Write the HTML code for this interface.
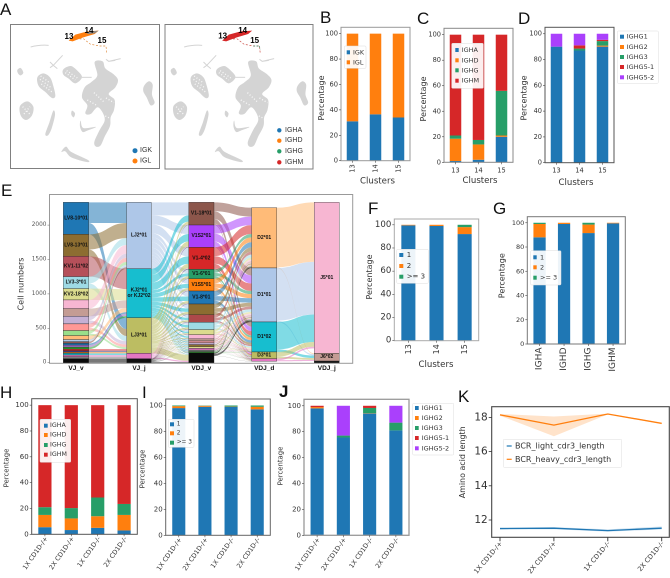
<!DOCTYPE html>
<html lang="en">
<head>
<meta charset="utf-8">
<title>BCR analysis figure</title>
<style>
html,body{margin:0;padding:0;background:#fff;}
svg{display:block;filter:blur(0.35px);}
text{font-family:"DejaVu Sans","Liberation Sans",sans-serif;fill:#333;}
.plain{font-family:"Liberation Sans",sans-serif;}
</style>
</head>
<body>
<svg id="fig" xmlns="http://www.w3.org/2000/svg" width="670" height="578" viewBox="0 0 670 578">
  <g class="letters">
    <text class="plain" x="0" y="15" font-size="17" style="fill:#111">A</text>
    <text class="plain" x="320" y="23" font-size="17" style="fill:#111">B</text>
    <text class="plain" x="417" y="24" font-size="17" style="fill:#111">C</text>
    <text class="plain" x="518" y="24" font-size="17" style="fill:#111">D</text>
    <text class="plain" x="1" y="196" font-size="17" style="fill:#111">E</text>
    <text class="plain" x="368" y="214" font-size="17" style="fill:#111">F</text>
    <text class="plain" x="493" y="214" font-size="17" style="fill:#111">G</text>
    <text class="plain" x="0" y="398" font-size="17" style="fill:#111">H</text>
    <text class="plain" x="142" y="398" font-size="17" style="fill:#111">I</text>
    <text class="plain" x="279" y="397" font-size="17" font-weight="bold" style="fill:#111">J</text>
    <text class="plain" x="458" y="402" font-size="17" style="fill:#111">K</text>
  </g>
  <g id="panelA"></g>
  <g id="panelE"></g>
  <g id="bars"></g>
  <g id="panelK"></g>
</svg>
<script>
// ---------- Panel B ----------
const clusterCategories = ['13', '14', '15'];
const panelBNames = ['IGK', 'IGL'];
const panelBIGK = [31, 36.5, 34];
const panelBIGL = [69, 63.5, 66];
// ---------- Panel C ----------
const panelCNames = ['IGHA', 'IGHD', 'IGHG', 'IGHM'];
const panelCIGHA = [1, 2, 20];
const panelCIGHD = [17.5, 12, 1];
const panelCIGHG = [2.5, 3.5, 35];
const panelCIGHM = [79, 82.5, 44];
// ---------- Panel D ----------
const panelDNames = ['IGHG1', 'IGHG2', 'IGHG3', 'IGHG5-1', 'IGHG5-2'];
const panelDG1 = [90, 87, 90];
const panelDG2 = [0, 0, 0.8];
const panelDG3 = [0, 1.5, 3.5];
const panelDG51 = [0, 2.5, 1];
const panelDG52 = [10, 9, 4.7];
// ---------- Panel F ----------
const cloneNames = ['1', '2', '>= 3'];
const panelF1 = [99.5, 99, 92];
const panelF2 = [0.5, 1, 6];
const panelF3 = [0, 0, 2];
// ---------- Panel G ----------
const isotypeCategories = ['IGHA', 'IGHD', 'IGHG', 'IGHM'];
const panelG1 = [88, 99, 91.5, 99.5];
const panelG2 = [11, 1, 7, 0.5];
const panelG3 = [1, 0, 1.5, 0];
// ---------- Panels H, I, J, K ----------
const genotypeCategories = ['1X CD1D-/+', '2X CD1D-/+', '1X CD1D-/-', '2X CD1D-/-'];
const panelHIGHA = [5.5, 3.3, 5, 3];
const panelHIGHD = [9.5, 9, 9, 12];
const panelHIGHG = [6, 8, 14.5, 8.5];
const panelHIGHM = [79, 79.7, 71.5, 76.5];
const panelI1 = [98, 99, 99, 97];
const panelI2 = [1.5, 0.8, 0.2, 2];
const panelI3 = [0.5, 0.2, 0.8, 1];
const panelJG1 = [98, 75.5, 94, 81];
const panelJG2 = [1, 0, 0.3, 0];
const panelJG3 = [0, 1.5, 4, 6];
const panelJG51 = [1, 0, 1.7, 0];
const panelJG52 = [0, 23, 0, 13];
const percentTicks = [0, 20, 40, 60, 80, 100];
const lightCdr3 = [11.5, 11.52, 11.38, 11.52];
const lightCdr3Upper = [11.55, 11.58, 11.45, 11.62];
const lightCdr3Lower = [11.45, 11.46, 11.32, 11.45];
const heavyCdr3 = [18.15, 17.55, 18.2, 17.65];
const heavyCdr3Upper = [18.2, 18.05, 18.22, 17.7];
const heavyCdr3Lower = [18.1, 16.9, 18.18, 17.6];
const panelKTicks = [12, 14, 16, 18];
// ---------- Panel E (Sankey) ----------
const sankeyTicks = [0, 500, 1000, 1500, 2000];
const columnNames = ['VJ_v', 'VJ_j', 'VDJ_v', 'VDJ_d', 'VDJ_j'];
const vjvValues = [465, 320, 295, 174, 165, 126, 111, 111, 97, 73, 58, 30, 25, 25, 30, 28, 25, 20, 17, 25, 25, 28, 58];
const vjvLabels = ['LV8-10*01', 'LV8-13*01', 'KV1-11*02', 'LV3-3*01', 'KV2-18*02'];
const vjjValues = [966, 712, 517, 78, 58];
const vjjLabels = ['LJ2*01', 'KJ2*01|or KJ2*02', 'LJ3*01'];
const vdjvValues = [330, 325, 320, 135, 179, 189, 155, 111, 106, 73, 62, 30, 28, 25, 30, 25, 25, 22, 18, 143];
const vdjvLabels = ['V1-18*01', 'V1S2*01', 'V1-4*02', 'V1-6*01', 'V1S5*01', 'V1-8*01'];
const vdjdValues = [877, 785, 436, 97, 39];
const vdjdLabels = ['D2*01', 'D1*01', 'D1*02', 'D3*01'];
const vdjjValues = [2195, 112, 24];
const vdjjLabels = ['J5*01', 'J6*02'];
// flow tables: rows = source node, columns = target node
const flowVjvVjj = [
  [300, 0, 165, 0, 0], [220, 0, 100, 0, 0], [0, 295, 0, 0, 0], [100, 0, 74, 0, 0], [0, 165, 0, 0, 0],
  [126, 0, 0, 0, 0], [0, 111, 0, 0, 0], [60, 0, 51, 0, 0], [60, 0, 37, 0, 0], [45, 0, 28, 0, 0], [0, 58, 0, 0, 0],
  [30, 0, 0, 0, 0], [25, 0, 0, 0, 0], [0, 25, 0, 0, 0], [0, 30, 0, 0, 0], [0, 28, 0, 0, 0],
  [0, 0, 25, 0, 0], [0, 0, 20, 0, 0], [0, 0, 17, 0, 0], [0, 0, 0, 25, 0], [0, 0, 0, 25, 0], [0, 0, 0, 28, 0], [0, 0, 0, 0, 58]
];
// rows = target VDJ_v node, columns = source VJ_j node
const flowVjjVdjv = [
  [190, 90, 40, 6, 4], [130, 110, 70, 10, 5], [130, 110, 65, 8, 7], [55, 45, 30, 3, 2], [75, 60, 35, 5, 4],
  [80, 65, 35, 5, 4], [65, 50, 32, 4, 4], [45, 35, 25, 3, 3], [40, 35, 25, 3, 3], [30, 22, 16, 3, 2],
  [25, 20, 13, 2, 2], [12, 9, 7, 1, 1], [11, 9, 6, 1, 1], [10, 8, 5, 1, 1], [12, 9, 7, 1, 1],
  [10, 8, 5, 1, 1], [10, 8, 5, 1, 1], [9, 7, 4, 1, 1], [7, 6, 3, 1, 1], [20, 6, 89, 18, 10]
];
const flowVdjvVdjd = [
  [130, 110, 70, 15, 5], [125, 115, 65, 15, 5], [128, 110, 62, 15, 5], [50, 45, 30, 7, 3], [70, 60, 38, 8, 3],
  [75, 65, 37, 9, 3], [60, 55, 30, 7, 3], [45, 40, 20, 4, 2], [42, 38, 20, 4, 2], [30, 25, 14, 3, 1],
  [25, 22, 12, 2, 1], [12, 11, 5, 1, 1], [11, 10, 5, 1, 1], [10, 9, 5, 1, 0], [12, 11, 5, 1, 1],
  [10, 9, 5, 1, 0], [10, 9, 5, 1, 0], [9, 8, 4, 1, 0], [7, 6, 4, 1, 0], [16, 27, 0, 0, 3]
];
const flowVdjdVdjj = [
  [865, 12, 0], [765, 20, 0], [400, 36, 0], [70, 27, 0], [22, 17, 0]
];
</script>
<script>
const NS = 'http://www.w3.org/2000/svg';
function el(parent, tag, attrs) {
  const e = document.createElementNS(NS, tag);
  for (const k in attrs) e.setAttribute(k, attrs[k]);
  parent.appendChild(e);
  return e;
}
function txt(parent, x, y, s, size, anchor, extra) {
  const t = el(parent, 'text', Object.assign({x: x, y: y, 'font-size': size, 'text-anchor': anchor || 'start', 'dominant-baseline': 'central'}, extra || {}));
  t.textContent = s;
  return t;
}
const tab = {blue: '#1f77b4', orange: '#ff7f0e', green: '#279e68', red: '#d62728', purple: '#aa40fc'};

/* ---------- Panel A ---------- */
function smoothClosed(pts) {
  const n = pts.length;
  let d = 'M' + pts[0][0] + ' ' + pts[0][1];
  for (let i = 0; i < n; i++) {
    const p0 = pts[(i - 1 + n) % n], p1 = pts[i], p2 = pts[(i + 1) % n], p3 = pts[(i + 2) % n];
    d += ' C' + (p1[0] + (p2[0] - p0[0]) / 6) + ' ' + (p1[1] + (p2[1] - p0[1]) / 6) + ' ' +
      (p2[0] - (p3[0] - p1[0]) / 6) + ' ' + (p2[1] - (p3[1] - p1[1]) / 6) + ' ' + p2[0] + ' ' + p2[1];
  }
  return d + ' Z';
}
(function () {
  const root = document.getElementById('panelA');
  const silhouettes = [
    [[284,186],[308,184],[316,205],[340,222],[354,240],[346,262],[326,282],[344,300],[342,330],[332,352],[330,378],[314,410],[302,436],[288,440],[283,426],[298,392],[314,362],[308,338],[292,322],[272,342],[256,340],[262,316],[246,292],[254,262],[274,246],[292,226]],
    [[112,232],[130,220],[150,232],[160,258],[166,288],[156,294],[136,276],[116,258]],
    [[190,208],[212,198],[232,212],[246,232],[226,250],[206,236],[190,224]],
    [[60,318],[82,304],[100,320],[96,346],[78,360],[62,346]],
    [[432,258],[446,244],[458,254],[456,284],[464,308],[452,316],[440,292],[430,274]],
    [[52,210],[62,204],[70,218],[62,226],[54,220]],
    [[160,332],[165,345],[155,385],[144,406],[136,402],[148,368]],
    [[184,456],[198,440],[214,456],[264,480],[260,486],[214,472],[196,454]],
    [[242,362],[250,384],[288,381],[262,392],[248,396],[240,380]],
    [[216,332],[225,340],[221,352],[214,344]]
  ];
  const threads = [
    'M92 141 Q118 134 146 136',
    'M150 186 L160 196 L188 166 M160 196 L150 203 M160 196 L172 206',
    'M318 178 L326 184 L362 176 M326 184 L346 181',
    'M246 232 L275 232'
  ];
  const speckles = [
    'M120 238 L152 262 M124 252 L156 276 M122 228 L146 246',
    'M200 212 L232 234 M196 218 L226 240',
    'M68 320 L92 345 M72 342 L90 320',
    'M282 278 L312 306 M318 294 L342 308 M316 348 L340 360 M262 300 L290 316'
  ];
  const panels = [
    {x: 10.5, w: 149, y: 24.5, h: 144, dx: 0, streak: '#ff7f0e', trail: '#e08a3c'},
    {x: 165, w: 148, y: 24.5, h: 144.5, dx: 153.5, streak: '#d62728', trail: '#c9473f'}
  ];
  panels.forEach(function (p, i) {
    const suffix = i === 0 ? 'light-chain' : 'heavy-chain';
    const g = el(root, 'g', {});
    
    
    const frame = el(g, 'rect', {x: p.x, y: p.y, width: p.w, height: p.h, fill: '#fff', stroke: '#808080', 'stroke-width': 1});
    
    
    const s = el(g, 'g', {transform: 'translate(' + p.dx + ',0) scale(0.3333)'});
    
    
    silhouettes.forEach(function (pts) { el(s, 'path', {d: smoothClosed(pts), fill: '#d4d4d4'}); });
    threads.forEach(function (d) { el(s, 'path', {d: d, fill: 'none', stroke: '#d4d4d4', 'stroke-width': 3}); });
    speckles.forEach(function (d) { el(s, 'path', {d: d, fill: 'none', stroke: '#fff', 'stroke-width': 4, 'stroke-dasharray': '3 6', opacity: 0.85}); });
    const streak = el(s, 'path', {d: 'M206 122 L226 104 L262 94 L296 92 L284 102 L250 112 L218 124 Z', fill: p.streak});
    
    
    if (i === 0) el(s, 'path', {d: 'M262 96 L296 92 L284 100 L262 102 Z', fill: '#8a8a8a'});
    const trail = el(s, 'path', {d: 'M228 118 L250 116 L272 133 L300 138 L318 138 L320 158', fill: 'none', stroke: p.trail, 'stroke-width': 2, 'stroke-dasharray': '6 5'});
    
    
    if (i === 1) el(s, 'path', {d: 'M300 138 L318 138 L320 148', fill: 'none', stroke: '#2f8f6f', 'stroke-width': 2, 'stroke-dasharray': '5 4'});
  });
  const clusterLabels = [['13', 69, 36.7], ['14', 89, 30.7], ['15', 102, 40.7], ['13', 222.7, 36], ['14', 242.7, 30.7], ['15', 254.7, 40.3]];
  clusterLabels.forEach(function (c) {
    const t = txt(root, c[1], c[2], c[0], 8, 'middle', {'font-weight': 'bold', style: 'font-family:"Liberation Sans",sans-serif;fill:#000'});
    
    
  });
  const legends = [
    {names: panelBNames, colors: [tab.blue, tab.orange], x: 135, tx: 140, ys: [150.7, 161], r: 2.5},
    {names: panelCNames, colors: [tab.blue, tab.orange, tab.green, tab.red], x: 279.3, tx: 285, ys: [130.3, 140.7, 151.3, 162.3], r: 2.2}
  ];
  legends.forEach(function (l) {
    l.names.forEach(function (n, i) {
      const c = el(root, 'circle', {cx: l.x, cy: l.ys[i], r: l.r, fill: l.colors[i]});
      
      
      const t = txt(root, l.tx, l.ys[i], n, 7, 'start', {style: 'font-family:"Liberation Sans",sans-serif;fill:#333'});
      
      
    });
  });
})();

/* ---------- Stacked bars ---------- */
function stackedBars(cfg) {
  const root = el(document.getElementById('bars'), 'g', {});
  
  
  const xScale = function (i) { return cfg.left + (i + 0.5) * (cfg.right - cfg.left) / cfg.categories.length; };
  const yScale = function (v) { return cfg.bottom - v / 105 * (cfg.bottom - cfg.top); };
  const bw = 0.5 * (cfg.right - cfg.left) / cfg.categories.length;
  cfg.categories.forEach(function (cat, i) {
    let acc = 0;
    cfg.series.forEach(function (vals, s) {
      const v = vals[i];
      if (v <= 0) return;
      const r = el(root, 'rect', {x: xScale(i) - bw / 2, y: yScale(acc + v), width: bw, height: yScale(acc) - yScale(acc + v), fill: cfg.colors[s]});
      
      
      acc += v;
    });
  });
  const frame = el(root, 'rect', {x: cfg.left, y: cfg.top, width: cfg.right - cfg.left, height: cfg.bottom - cfg.top, fill: 'none', stroke: cfg.frame || '#888', 'stroke-width': cfg.frameW || 1});
  
  
  percentTicks.forEach(function (t) {
    const m = el(root, 'line', {x1: cfg.left - 2, x2: cfg.left, y1: yScale(t), y2: yScale(t), stroke: '#444', 'stroke-width': 0.6});
    
    
    const l = txt(root, cfg.left - 3, yScale(t), String(t), cfg.tickFont, 'end');
    
    
  });
  cfg.categories.forEach(function (cat, i) {
    const x = xScale(i);
    const m = el(root, 'line', {x1: x, x2: x, y1: cfg.bottom, y2: cfg.bottom + 2, stroke: '#444', 'stroke-width': 0.6});
    
    
    let l;
    if (cfg.xMode === 'flat') {
      l = txt(root, x, cfg.bottom + 8, cat, cfg.xFont, 'middle');
    } else if (cfg.xMode === 'vertical') {
      l = txt(root, x, cfg.bottom + 3.5, cat, cfg.xFont, 'end', {transform: 'rotate(-90 ' + x + ' ' + (cfg.bottom + 3.5) + ')'});
    } else {
      const ax = x + 1.5, ay = cfg.bottom + 3;
      l = txt(root, ax, ay, cat, cfg.xFont, 'end', {transform: 'rotate(-55 ' + ax + ' ' + ay + ')'});
    }
    
    
  });
  const yl = txt(root, cfg.yLabelX, cfg.yLabelY, 'Percentage', cfg.yLabelFont, 'middle', {transform: 'rotate(-90 ' + cfg.yLabelX + ' ' + cfg.yLabelY + ')'});
  
  
  if (cfg.xTitle) {
    const xl = txt(root, cfg.xTitle[0], cfg.xTitle[1], 'Clusters', 8.6, 'middle');
    
    
  }
  const L = cfg.legend;
  const box = el(root, 'rect', {x: L.x, y: L.y, width: L.w, height: L.h, rx: 1, fill: '#fff', 'fill-opacity': 0.92, stroke: '#ddd', 'stroke-width': 0.5});
  
  
  cfg.names.forEach(function (n, i) {
    const sw = el(root, 'rect', {x: L.px, y: L.ys[i] - 2, width: L.pw, height: 4, fill: cfg.colors[i]});
    
    
    const t = txt(root, L.tx, L.ys[i], n, L.font, 'start');
    
    
  });
}
const cA = [tab.blue, tab.orange];
const cI = [tab.blue, tab.orange, tab.green, tab.red];
const cG = [tab.blue, tab.orange, tab.green, tab.red, tab.purple];
const cN = [tab.blue, tab.orange, tab.green];
stackedBars({id: 'b', categories: clusterCategories, names: panelBNames, series: [panelBIGK, panelBIGL], colors: cA,
  left: 341, right: 410, top: 27.3, bottom: 160.7, frame: '#999', tickFont: 6.7, xMode: 'vertical', xFont: 6.7,
  yLabelX: 321.7, yLabelY: 98, yLabelFont: 8, xTitle: [377.5, 181.5],
  legend: {x: 344.3, y: 46, w: 21.7, h: 22.3, px: 346.7, pw: 3.3, tx: 353, ys: [52.3, 62.3], font: 6.4}});
stackedBars({id: 'c', categories: clusterCategories, names: panelCNames, series: [panelCIGHA, panelCIGHD, panelCIGHG, panelCIGHM], colors: cI,
  left: 444, right: 513, top: 28.3, bottom: 162.3, frame: '#888', tickFont: 6.6, xMode: 'flat', xFont: 6.6,
  yLabelX: 423.3, yLabelY: 99, yLabelFont: 8, xTitle: [480, 181],
  legend: {x: 451.7, y: 43.3, w: 31.6, h: 45, px: 455.3, pw: 3.4, tx: 461.7, ys: [50, 60.3, 70.3, 80.7], font: 6.5}});
stackedBars({id: 'd', categories: clusterCategories, names: panelDNames, series: [panelDG1, panelDG2, panelDG3, panelDG51, panelDG52], colors: cG,
  left: 545, right: 614, top: 27.3, bottom: 162.7, frame: '#555', tickFont: 6.6, xMode: 'flat', xFont: 6.6,
  yLabelX: 524, yLabelY: 98, yLabelFont: 8, xTitle: [576, 183],
  legend: {x: 617.3, y: 31, w: 41, h: 52.3, px: 620, pw: 4, tx: 626.7, ys: [36.7, 47, 57, 67, 77.3], font: 6.5}});
stackedBars({id: 'f', categories: clusterCategories, names: cloneNames, series: [panelF1, panelF2, panelF3], colors: cN,
  left: 394.3, right: 478.7, top: 219, bottom: 340.7, frame: '#aaa', tickFont: 8.6, xMode: 'vertical', xFont: 8,
  yLabelX: 369.3, yLabelY: 277, yLabelFont: 8, xTitle: [436, 365],
  legend: {x: 396.7, y: 249.3, w: 31.6, h: 34, px: 399.3, pw: 4, tx: 406.7, ys: [255, 266, 276.7], font: 7}});
stackedBars({id: 'g', categories: isotypeCategories, names: cloneNames, series: [panelG1, panelG2, panelG3], colors: cN,
  left: 527.3, right: 625.3, top: 216.7, bottom: 344, frame: '#777', tickFont: 6.5, xMode: 'vertical', xFont: 9,
  yLabelX: 502, yLabelY: 275.7, yLabelFont: 8,
  legend: {x: 530.7, y: 250.7, w: 30.3, h: 34.3, px: 533.3, pw: 3.4, tx: 540, ys: [257.3, 267.3, 277.7], font: 6.5}});
stackedBars({id: 'h', categories: genotypeCategories, names: panelCNames, series: [panelHIGHA, panelHIGHD, panelHIGHG, panelHIGHM], colors: cI,
  left: 31.7, right: 137.3, top: 398.7, bottom: 534.3, frame: '#555', tickFont: 7, xMode: 'slant', xFont: 6.4,
  yLabelX: 6.7, yLabelY: 468, yLabelFont: 6.9,
  legend: {x: 40, y: 419.3, w: 30.7, h: 43, px: 44, pw: 3.7, tx: 50, ys: [425.7, 435, 445, 454.7], font: 6.3}});
stackedBars({id: 'i', categories: genotypeCategories, names: cloneNames, series: [panelI1, panelI2, panelI3], colors: cN,
  left: 165.7, right: 270.3, top: 399, bottom: 535.3, frame: '#666', tickFont: 7, xMode: 'slant', xFont: 6.4,
  yLabelX: 142.7, yLabelY: 469, yLabelFont: 6.9,
  legend: {x: 168.3, y: 419.3, w: 25.7, h: 28, px: 170, pw: 4, tx: 176.7, ys: [424.3, 433.3, 442.7], font: 5.8}});
stackedBars({id: 'j', categories: genotypeCategories, names: panelDNames, series: [panelJG1, panelJG2, panelJG3, panelJG51, panelJG52], colors: cG,
  left: 304, right: 409, top: 399.3, bottom: 535.3, frame: '#999', frameW: 1.3, tickFont: 7, xMode: 'slant', xFont: 6.4,
  yLabelX: 280.7, yLabelY: 466, yLabelFont: 6.9,
  legend: {x: 412.7, y: 403.3, w: 41, h: 51.7, px: 415, pw: 3.7, tx: 421.7, ys: [408, 418, 428, 438, 448.3], font: 6.5}});

/* ---------- Panel K ---------- */
(function () {
  const root = document.getElementById('panelK');
  const left = 491.7, right = 669.3, top = 406.7, bottom = 537.3;
  const xScale = function (i) { return 500 + i * (661.7 - 500) / 3; };
  const yScale = function (v) { return 520 - (v - 12) * 17.1; };
  function band(up, lo, color, name) {
    const pts = up.map(function (v, i) { return xScale(i) + ',' + yScale(v); })
      .concat(lo.map(function (v, i) { return xScale(i) + ',' + yScale(v); }).reverse());
    const p = el(root, 'polygon', {points: pts.join(' '), fill: color, 'fill-opacity': 0.22});
    
    
  }
  function line(vals, color, name) {
    const p = el(root, 'polyline', {points: vals.map(function (v, i) { return xScale(i) + ',' + yScale(v); }).join(' '), fill: 'none', stroke: color, 'stroke-width': 1.3});
    
    
  }
  band(lightCdr3Upper, lightCdr3Lower, tab.blue, 'light-cdr3-band');
  band(heavyCdr3Upper, heavyCdr3Lower, tab.orange, 'heavy-cdr3-band');
  line(lightCdr3, tab.blue, 'light-cdr3-line');
  line(heavyCdr3, tab.orange, 'heavy-cdr3-line');
  const frame = el(root, 'rect', {x: left, y: top, width: right - left, height: bottom - top, fill: 'none', stroke: '#444', 'stroke-width': 1.1});
  
  
  panelKTicks.forEach(function (t) {
    const m = el(root, 'line', {x1: left - 3, x2: left, y1: yScale(t), y2: yScale(t), stroke: '#333', 'stroke-width': 0.8});
    
    
    const l = txt(root, left - 4, yScale(t), String(t), 10.5, 'end');
    
    
  });
  genotypeCategories.forEach(function (c, i) {
    const x = xScale(i);
    const m = el(root, 'line', {x1: x, x2: x, y1: bottom, y2: bottom + 4, stroke: '#333', 'stroke-width': 0.9});
    
    
    const ax = x + 1, ay = bottom + 5;
    const l = txt(root, ax, ay, c, 6.6, 'end', {transform: 'rotate(-50 ' + ax + ' ' + ay + ')'});
    
    
  });
  const yl = txt(root, 462.3, 462.3, 'Amino acid length', 8, 'middle', {transform: 'rotate(-90 462.3 462.3)', textLength: 72, lengthAdjust: 'spacingAndGlyphs'});
  
  
  const box = el(root, 'rect', {x: 503.3, y: 439.3, width: 118.4, height: 28, rx: 1, fill: '#fff', stroke: '#ddd', 'stroke-width': 0.5});
  
  
  [['BCR_light_cdr3_length', tab.blue, 446], ['BCR_heavy_cdr3_length', tab.orange, 459.3]].forEach(function (e) {
    const s = el(root, 'line', {x1: 506.7, x2: 511.7, y1: e[2], y2: e[2], stroke: e[1], 'stroke-width': 1.2});
    
    
    const t = txt(root, 515, e[2], e[0], 8, 'start');
    
    
  });
})();

/* ---------- Panel E ---------- */
(function () {
  const root = document.getElementById('panelE');
  const yScale = function (v) { return 362.7 - v * 0.0688; };
  const frameX = 49.5, frameR = 352.7, frameT = 194.5, frameB = 363.3;
  const palettes = [
    ['#1f77b4', '#8c6d31', '#b5505a', '#9edae5', '#dbdb8d', '#f7b6d2', '#c49c94', '#c5b0d5', '#ff9896', '#98df8a', '#ffbb78',
     '#aec7e8', '#8c564b', '#1f77b4', '#9467bd', '#2ca02c', '#d62728', '#393b79', '#ff7f0e', '#17becf', '#e377c2', '#7f7f7f', '#0a0a0a'],
    ['#aec7e8', '#17becf', '#bcbd62', '#e377c2', '#111111'],
    ['#8c564b', '#aa40fc', '#d62728', '#279e68', '#ff7f0e', '#1f77b4', '#8c6d31', '#ad494a', '#9edae5', '#dbdb8d', '#f7b6d2',
     '#c49c94', '#e7969c', '#c5b0d5', '#8c6d31', '#dbdb8d', '#e377c2', '#7f7f7f', '#2ca02c', '#0a0a0a'],
    ['#ffbb78', '#aec7e8', '#17becf', '#bcbd62', '#e377c2'],
    ['#f7b6d2', '#c49c94', '#111111']
  ];
  const values = [vjvValues, vjjValues, vdjvValues, vdjdValues, vdjjValues];
  const labels = [vjvLabels, vjjLabels, vdjvLabels, vdjdLabels, vdjjLabels];
  const colLeft = [63.3, 126.7, 188.7, 251.7, 314.3];
  const colRight = [88.7, 151.3, 214, 276.7, 339.3];
  const colTop = [2331, 2331, 2331, 2254, 2331];

  const frame = el(root, 'rect', {x: frameX, y: frameT, width: frameR - frameX, height: frameB - frameT, fill: '#fff', stroke: '#999', 'stroke-width': 1});
  
  

  const flowsG = el(root, 'g', {});
  
  

  function stackTops(vals, start) {
    let acc = start;
    return vals.map(function (v) { const t = acc; acc -= v; return t; });
  }
  const tops = values.map(function (v, i) { return stackTops(v, colTop[i]); });

  function drawFlows(col, getValue, nSrc, nDst) {
    const srcAcc = tops[col].slice();
    const dstAcc = tops[col + 1].slice();
    const x0 = colRight[col], x1 = colLeft[col + 1], xm = (x0 + x1) / 2;
    const items = [];
    for (let s = 0; s < nSrc; s++) {
      for (let d = 0; d < nDst; d++) {
        const v = getValue(s, d);
        if (v <= 0) continue;
        items.push({s: s, d: d, v: v, a: srcAcc[s], b: dstAcc[d]});
        srcAcc[s] -= v;
        dstAcc[d] -= v;
      }
    }
    items.forEach(function (f) {
      const y0a = yScale(f.a), y0b = yScale(f.a - f.v), y1a = yScale(f.b), y1b = yScale(f.b - f.v);
      const dStr = 'M' + x0 + ' ' + y0a + ' C' + xm + ' ' + y0a + ' ' + xm + ' ' + y1a + ' ' + x1 + ' ' + y1a +
        ' L' + x1 + ' ' + y1b + ' C' + xm + ' ' + y1b + ' ' + xm + ' ' + y0b + ' ' + x0 + ' ' + y0b + ' Z';
      const p = el(flowsG, 'path', {d: dStr, fill: palettes[col][f.s], 'fill-opacity': 0.55});
      
      
    });
  }
  drawFlows(0, function (s, d) { return flowVjvVjj[s][d]; }, vjvValues.length, vjjValues.length);
  drawFlows(1, function (s, d) { return flowVjjVdjv[d][s]; }, vjjValues.length, vdjvValues.length);
  drawFlows(2, function (s, d) { return flowVdjvVdjd[s][d]; }, vdjvValues.length, vdjdValues.length);
  drawFlows(3, function (s, d) { return flowVdjdVdjj[s][d]; }, vdjdValues.length, vdjjValues.length);

  values.forEach(function (vals, c) {
    const cg = el(root, 'g', {});
    
    
    vals.forEach(function (v, i) {
      const y = yScale(tops[c][i]), h = yScale(tops[c][i] - v) - y;
      const r = el(cg, 'rect', {x: colLeft[c], y: y, width: colRight[c] - colLeft[c], height: h, fill: palettes[c][i], stroke: '#222', 'stroke-width': 0.35});
      
      
      if (labels[c][i]) {
        const parts = labels[c][i].split('|');
        const cx = (colLeft[c] + colRight[c]) / 2, cy = y + h / 2;
        parts.forEach(function (part, k) {
          const t = txt(cg, cx, cy + (k - (parts.length - 1) / 2) * 5.5, part, 5, 'middle', {'font-weight': 'bold', style: 'font-family:"Liberation Sans",sans-serif;fill:#111'});
          
          
        });
      }
    });
    const name = txt(root, (colLeft[c] + colRight[c]) / 2, 368.5, columnNames[c], 6.5, 'middle', {'font-weight': 'bold', style: 'font-family:"Liberation Sans",sans-serif;fill:#111'});
    
    
  });
  sankeyTicks.forEach(function (t) {
    const m = el(root, 'line', {x1: frameX - 2, x2: frameX, y1: yScale(t), y2: yScale(t), stroke: '#666', 'stroke-width': 0.5});
    
    
    const l = txt(root, frameX - 3, yScale(t), String(t), 5.8, 'end', {style: 'fill:#555'});
    
    
  });
  const yl = txt(root, 21, 284, 'Cell numbers', 8, 'middle', {transform: 'rotate(-90 21 284)'});
  
  
})();
</script>
</body>
</html>
